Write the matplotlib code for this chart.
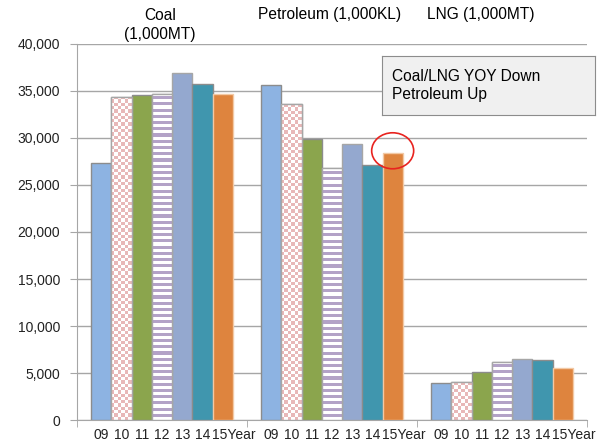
import numpy as np
import matplotlib.pyplot as plt
from matplotlib.patches import Ellipse
from matplotlib.colors import ListedColormap
from matplotlib.ticker import FuncFormatter
from matplotlib.transforms import ScaledTranslation

plt.rcParams['font.family'] = ['Liberation Sans', 'DejaVu Sans']

categories = ['Coal\n(1,000MT)', 'Petroleum (1,000KL)', 'LNG (1,000MT)']
years = ['09', '10', '11', '12', '13', '14', '15Year']
coal = [27340, 34390, 34540, 34680, 36880, 35780, 34710]
petroleum = [35640, 33590, 29860, 26780, 29360, 27100, 28440]
lng = [3970, 4010, 5070, 6200, 6490, 6410, 5560]
note = 'Coal/LNG YOY Down\nPetroleum Up'

# per-year bar styles: (face, edge, pattern)
styles = [
    ('#8DB3E2', '#8C8C8C', None),
    ('white', '#A6A6A6', 'checker'),
    ('#8BA54D', '#8C8C8C', None),
    ('white', '#A6A6A6', 'stripes'),
    ('#94A8CF', '#A6A6A6', None),
    ('#4096AE', '#8C8C8C', None),
    ('#DE843E', '#F2C9A5', None),
]
pink = '#E8B8B8'
purple = '#B3A2C7'
grey = '#A6A6A6'

fig = plt.figure(figsize=(6, 4.43), dpi=100)
ax = fig.add_axes([0.1283, 0.0519, 0.85, 0.8488])

width = 0.119
series = [coal, petroleum, lng]
centers = []
bars = {}
for g, vals in enumerate(series):
    for i, v in enumerate(vals):
        x = g + (i - 3) * width
        centers.append(x)
        face, edge, pat = styles[i]
        b = ax.bar(x, v, width=width, color=face, edgecolor=edge, linewidth=1, zorder=3)[0]
        bars[(g, i)] = b
        if pat == 'checker':
            ncol = 6
            nrow = max(1, int(round(v / 350)))
            checker = np.add.outer(np.arange(nrow), np.arange(ncol)) % 2
            im = ax.imshow(checker, cmap=ListedColormap(['white', pink]),
                           extent=(x - width / 2, x + width / 2, 0, v),
                           aspect='auto', interpolation='nearest', zorder=3.5)
            im.set_clip_path(b)
            ax.bar(x, v, width=width, color='none', edgecolor=edge, linewidth=1, zorder=4)
        elif pat == 'stripes':
            nrow = max(1, int(round(v / 330)))
            stripes = (np.arange(nrow) % 2).reshape(-1, 1)
            im = ax.imshow(stripes, cmap=ListedColormap(['white', purple]),
                           extent=(x - width / 2, x + width / 2, 0, v),
                           aspect='auto', interpolation='nearest', zorder=3.5)
            im.set_clip_path(b)
            ax.bar(x, v, width=width, color='none', edgecolor=edge, linewidth=1, zorder=4)

ax.set_xlim(-0.5, 2.5)
ax.set_ylim(0, 40000)
ax.set_yticks(np.arange(0, 40001, 5000))
ax.yaxis.set_major_formatter(FuncFormatter(lambda v, p: f'{int(v):,}'))
ax.grid(axis='y', color=grey, linewidth=1, zorder=0)
ax.set_axisbelow(True)

ax.set_xticks(centers)
ax.set_xticklabels(years * 3, fontsize=10, color='#222222')
ax.tick_params(axis='x', length=0, pad=6)
# "15Year" starts at the left edge of its bar
shift = ScaledTranslation(-0.11, 0, fig.dpi_scale_trans)
for lab in ax.get_xticklabels():
    if lab.get_text() == years[-1]:
        lab.set_horizontalalignment('left')
        lab.set_transform(lab.get_transform() + shift)
ax.set_xticks([-0.5, 0.5, 1.5, 2.5], minor=True)
ax.tick_params(axis='x', which='minor', length=5, color=grey, direction='out')
ax.tick_params(axis='y', length=5, color=grey, labelsize=10, labelcolor='#222222', pad=7)

for s in ['top', 'right']:
    ax.spines[s].set_visible(False)
for s in ['left', 'bottom']:
    ax.spines[s].set_color(grey)

# group titles
fig.text(160 / 600, 1 - 15 / 443, 'Coal', ha='center', va='center', fontsize=11.2)
fig.text(160 / 600, 1 - 34 / 443, '(1,000MT)', ha='center', va='center', fontsize=11.2)
fig.text(330 / 600, 1 - 15 / 443, categories[1], ha='center', va='center', fontsize=11.2)
fig.text(481 / 600, 1 - 15 / 443, categories[2], ha='center', va='center', fontsize=11.2)

# note box
ax_box = fig.add_axes([382 / 600, 1 - 115 / 443, 213 / 600, 59 / 443])
ax_box.set_xticks([])
ax_box.set_yticks([])
ax_box.set_facecolor('#F0F0F0')
for s in ax_box.spines.values():
    s.set_color('#8C8C8C')
ax_box.text(10 / 213, 0.5, note, ha='left', va='center', fontsize=11.2,
            linespacing=1.2, transform=ax_box.transAxes)

# red circle around petroleum 2015
pb = bars[(1, 6)]
cx = pb.get_x() + pb.get_width() / 2
ax.add_patch(Ellipse((cx, pb.get_height() + 200), 0.247, 3830, fill=False,
                     edgecolor='#E8231F', linewidth=1.2, zorder=6, clip_on=False))

fig.savefig('out.png', dpi=100)
